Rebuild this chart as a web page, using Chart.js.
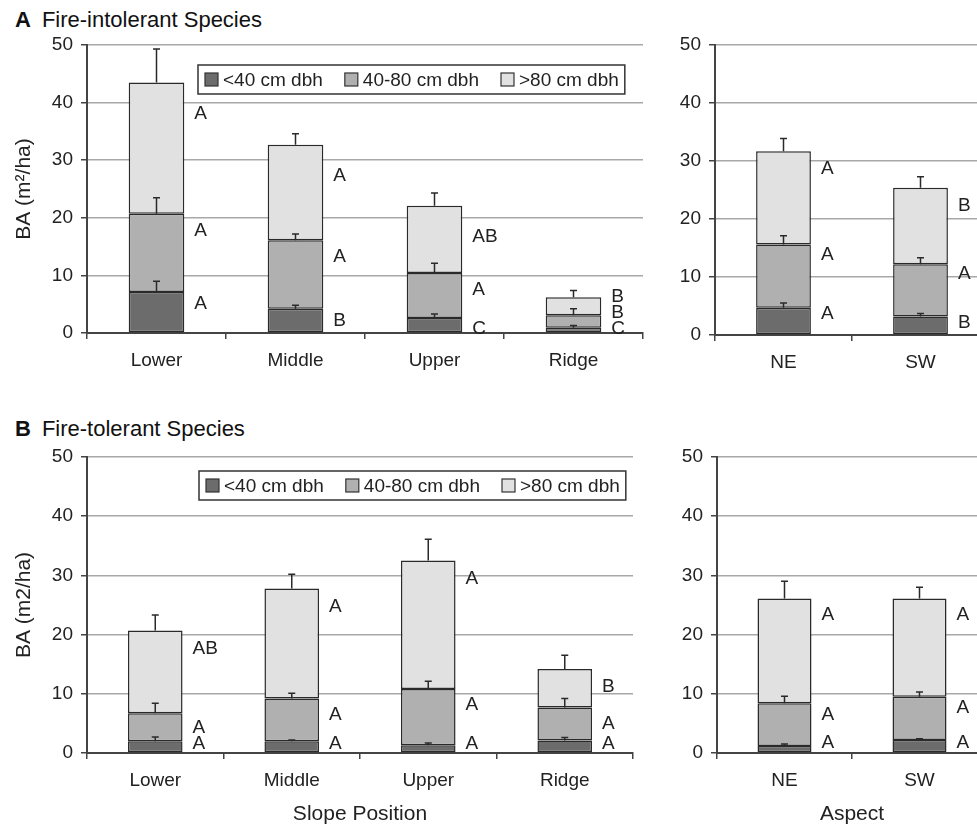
<!DOCTYPE html>
<html>
<head>
<meta charset="utf-8">
<script src="https://cdn.jsdelivr.net/npm/chart.js@4.4.1/dist/chart.umd.min.js"></script>
<style>
  html, body { margin: 0; padding: 0; background: #fff; overflow: hidden; width: 977px; height: 827px; position: relative; font-family: "Liberation Sans", Arial, sans-serif; }
  .panel { position: absolute; }
  .ptitle { position: absolute; left: 15px; font-size: 22px; color: #111; white-space: nowrap; line-height: 1; }
  .ptitle b { margin-right: 11px; }
</style>
</head>
<body>
<div class="ptitle" style="top:9px"><b>A</b>Fire-intolerant Species</div>
<div class="ptitle" style="top:418px"><b>B</b>Fire-tolerant Species</div>
<canvas id="cA1" class="panel" style="left:0;top:0" width="650" height="400"></canvas>
<canvas id="cA2" class="panel" style="left:640px;top:0" width="354" height="400"></canvas>
<canvas id="cB1" class="panel" style="left:0;top:410px" width="650" height="417"></canvas>
<canvas id="cB2" class="panel" style="left:640px;top:410px" width="352" height="417"></canvas>
<script>
// categories
const slopeLabels = ['Lower', 'Middle', 'Upper', 'Ridge'];
const aspectLabels = ['NE', 'SW'];
const classNames = ['<40 cm dbh', '40-80 cm dbh', '>80 cm dbh'];

// A: fire-intolerant, by slope position (segment values, m2/ha)
const intolSlopeSmall = [7.1, 4.2, 2.6, 0.9];
const intolSlopeMid = [13.6, 11.9, 7.8, 2.2];
const intolSlopeLarge = [22.8, 16.6, 11.7, 3.1];
const intolSlopeErrSmall = [1.9, 0.6, 0.7, 0.4];
const intolSlopeErrMid = [2.8, 1.1, 1.7, 1.1];
const intolSlopeErrLarge = [5.8, 1.9, 2.2, 1.2];
const intolSlopeLetSmall = ['A', 'B', 'C', 'C'];
const intolSlopeLetMid = ['A', 'A', 'A', 'B'];
const intolSlopeLetLarge = ['A', 'A', 'AB', 'B'];

// A: fire-intolerant, by aspect
const intolAspSmall = [4.7, 3.2];
const intolAspMid = [10.9, 9.0];
const intolAspLarge = [16.1, 13.2];
const intolAspErrSmall = [0.8, 0.5];
const intolAspErrMid = [1.5, 1.1];
const intolAspErrLarge = [2.2, 1.9];
const intolAspLetSmall = ['A', 'B'];
const intolAspLetMid = ['A', 'A'];
const intolAspLetLarge = ['A', 'B'];

// B: fire-tolerant, by slope position
const tolSlopeSmall = [2.0, 2.0, 1.3, 2.1];
const tolSlopeMid = [4.7, 7.2, 9.5, 5.6];
const tolSlopeLarge = [14.0, 18.6, 21.7, 6.5];
const tolSlopeErrSmall = [0.7, 0.2, 0.4, 0.5];
const tolSlopeErrMid = [1.7, 0.9, 1.3, 1.5];
const tolSlopeErrLarge = [2.6, 2.4, 3.6, 2.3];
const tolSlopeLetSmall = ['A', 'A', 'A', 'A'];
const tolSlopeLetMid = ['A', 'A', 'A', 'A'];
const tolSlopeLetLarge = ['AB', 'A', 'A', 'B'];

// B: fire-tolerant, by aspect
const tolAspSmall = [1.2, 2.2];
const tolAspMid = [7.2, 7.3];
const tolAspLarge = [17.7, 16.6];
const tolAspErrSmall = [0.3, 0.2];
const tolAspErrMid = [1.2, 0.8];
const tolAspErrLarge = [2.9, 1.9];
const tolAspLetSmall = ['A', 'A'];
const tolAspLetMid = ['A', 'A'];
const tolAspLetLarge = ['A', 'A'];

const yTicks = [0, 10, 20, 30, 40, 50];

const FONT = "'Liberation Sans', Arial, sans-serif";
const fills = ['#6c6c6c', '#b0b0b0', '#e1e1e1'];
Chart.defaults.font.family = FONT;
Chart.defaults.color = '#222';

// error bars, letters and the boxed legend
const extras = {
  id: 'extras',
  afterDatasetsDraw(chart, args, opts) {
    const ctx = chart.ctx;
    const y = chart.scales.y;
    const axisPx = y.getPixelForValue(0);
    ctx.save();
    ctx.font = '19px ' + FONT;
    ctx.textBaseline = 'middle';
    ctx.textAlign = 'left';
    for (let i = 0; i < chart.data.labels.length; i++) {
      let cum = 0, prev = Infinity;
      chart.data.datasets.forEach((ds, j) => {
        const bar = chart.getDatasetMeta(j).data[i];
        cum += ds.data[i];
        const top = y.getPixelForValue(cum);
        const eTop = y.getPixelForValue(cum + ds.errors[i]);
        ctx.strokeStyle = '#2a2a2a';
        ctx.lineWidth = 1.5;
        ctx.beginPath();
        ctx.moveTo(bar.x, top);
        ctx.lineTo(bar.x, eTop);
        ctx.moveTo(bar.x - 3.5, eTop);
        ctx.lineTo(bar.x + 3.5, eTop);
        ctx.stroke();
        let c = top + opts.letterOffsets[j];
        c = Math.min(c, j === 0 ? axisPx - opts.floor : prev - 16);
        prev = c;
        ctx.fillStyle = '#222';
        ctx.fillText(ds.letters[i], bar.x + bar.width / 2 + 10, c);
      });
    }
    if (opts.legend) {
      const area = chart.chartArea;
      const bx = area.left + opts.legend.dx, by = area.top + opts.legend.dy;
      const widths = chart.data.datasets.map(ds => ctx.measureText(ds.label).width);
      const w = 7 + widths.reduce((s, v) => s + 18 + v, 0) + 22 * (widths.length - 1) + 6;
      ctx.fillStyle = '#fff';
      ctx.fillRect(bx, by, w, 29);
      ctx.strokeStyle = '#333';
      ctx.lineWidth = 1.5;
      ctx.strokeRect(bx, by, w, 29);
      let x = bx + 7;
      chart.data.datasets.forEach((ds, j) => {
        ctx.fillStyle = ds.backgroundColor;
        ctx.fillRect(x, by + 8, 13, 13);
        ctx.lineWidth = 1.2;
        ctx.strokeRect(x, by + 8, 13, 13);
        ctx.fillStyle = '#222';
        ctx.fillText(ds.label, x + 18, by + 15.5);
        x += 18 + widths[j] + 22;
      });
    }
    ctx.restore();
  }
};

function makePanel(id, labels, series, errs, letters, layout) {
  const datasets = series.map((vals, j) => ({
    label: classNames[j],
    data: vals,
    errors: errs[j],
    letters: letters[j],
    backgroundColor: fills[j],
    borderColor: '#2a2a2a',
    borderWidth: 1.5,
    borderSkipped: false,
    categoryPercentage: 1,
    barPercentage: 0.4
  }));
  return new Chart(document.getElementById(id), {
    type: 'bar',
    data: { labels: labels, datasets: datasets },
    plugins: [extras],
    options: {
      responsive: false,
      animation: false,
      events: [],
      layout: { padding: { top: layout.top, right: layout.right, left: 0, bottom: 0 } },
      plugins: {
        legend: { display: false },
        tooltip: { enabled: false },
        extras: { letterOffsets: layout.letterOffsets, floor: layout.floor, legend: layout.legend }
      },
      scales: {
        x: {
          stacked: true,
          offset: true,
          afterFit: s => { s.height = layout.xHeight; },
          grid: { drawOnChartArea: false, offset: true, tickLength: 6, tickColor: '#444', lineWidth: 1.5 },
          border: { color: '#444', width: 2 },
          ticks: { font: { size: 19 }, color: '#222', padding: 10, maxRotation: 0, autoSkip: false },
          title: { display: !!layout.xTitle, text: layout.xTitle, font: { size: 21 }, color: '#222', padding: { top: 0, bottom: 0 } }
        },
        y: {
          stacked: true,
          min: yTicks[0],
          max: yTicks[yTicks.length - 1],
          afterFit: s => { s.width = layout.yWidth; },
          afterBuildTicks: s => { s.ticks = yTicks.map(v => ({ value: v })); },
          grid: { color: '#a8a8a8', lineWidth: 1.5, tickLength: 6, tickColor: '#444' },
          border: { color: '#444', width: 2 },
          ticks: { font: { size: 19 }, color: '#222', padding: 8 },
          title: { display: !!layout.yTitle, text: layout.yTitle, font: { size: 21 }, color: '#222', padding: { top: 12, bottom: 0 } }
        }
      }
    }
  });
}

makePanel('cA1', slopeLabels,
  [intolSlopeSmall, intolSlopeMid, intolSlopeLarge],
  [intolSlopeErrSmall, intolSlopeErrMid, intolSlopeErrLarge],
  [intolSlopeLetSmall, intolSlopeLetMid, intolSlopeLetLarge],
  { top: 45, right: 7, xHeight: 67, yWidth: 87, yTitle: 'BA (m\u00b2/ha)', legend: { dx: 111, dy: 20 },
    letterOffsets: [12, 17, 31], floor: 4 });

makePanel('cA2', aspectLabels,
  [intolAspSmall, intolAspMid, intolAspLarge],
  [intolAspErrSmall, intolAspErrMid, intolAspErrLarge],
  [intolAspLetSmall, intolAspLetMid, intolAspLetLarge],
  { top: 45, right: 5, xHeight: 65, yWidth: 75, letterOffsets: [6, 10, 18], floor: 6 });

makePanel('cB1', slopeLabels,
  [tolSlopeSmall, tolSlopeMid, tolSlopeLarge],
  [tolSlopeErrSmall, tolSlopeErrMid, tolSlopeErrLarge],
  [tolSlopeLetSmall, tolSlopeLetMid, tolSlopeLetLarge],
  { top: 47, right: 17, xHeight: 74, yWidth: 87, yTitle: 'BA (m2/ha)', xTitle: 'Slope Position', legend: { dx: 112, dy: 14 },
    letterOffsets: [14, 16, 18], floor: 9 });

makePanel('cB2', aspectLabels,
  [tolAspSmall, tolAspMid, tolAspLarge],
  [tolAspErrSmall, tolAspErrMid, tolAspErrLarge],
  [tolAspLetSmall, tolAspLetMid, tolAspLetLarge],
  { top: 47, right: 5, xHeight: 74, yWidth: 77, xTitle: 'Aspect', letterOffsets: [10, 11, 16], floor: 10 });
</script>
</body>
</html>
